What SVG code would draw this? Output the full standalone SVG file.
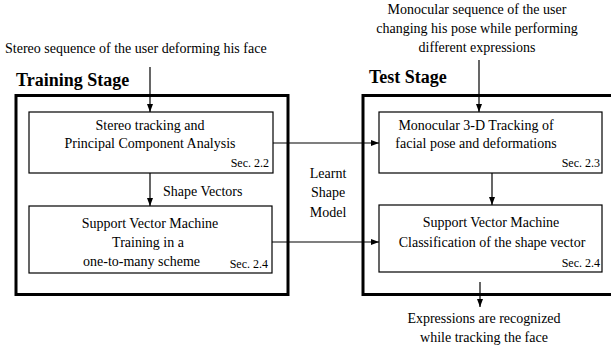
<svg xmlns="http://www.w3.org/2000/svg" width="611" height="349" viewBox="0 0 611 349">
<defs>
<marker id="ah" markerWidth="8" markerHeight="6" refX="8" refY="3" orient="auto" markerUnits="userSpaceOnUse">
<path d="M0,0 L8,3 L0,6 z" fill="#000"/>
</marker>
</defs>
<style>
.outer{fill:none;stroke:#000;stroke-width:3}
.box{fill:#fff;stroke:#000;stroke-width:1.2}
.c{stroke:#000;stroke-width:1.2;fill:none;marker-end:url(#ah)}
</style>
<rect width="611" height="349" fill="#fff"/>
<g id="training-stage">
<rect class="outer" x="16" y="95.5" width="272" height="199"/>
<text x="16" y="86" font-family="Liberation Serif" font-size="18" font-weight="bold">Training Stage</text>
</g>
<g id="test-stage">
<rect class="outer" x="363" y="95.5" width="260" height="199"/>
<text x="369" y="83" font-family="Liberation Serif" font-size="18" font-weight="bold">Test Stage</text>
</g>
<g id="connectors">
<line class="c" x1="150" y1="67" x2="150" y2="112"/>
<line class="c" x1="150" y1="173" x2="150" y2="206"/>
<line class="c" x1="273" y1="143" x2="379" y2="143"/>
<line class="c" x1="272" y1="242" x2="379" y2="242"/>
<line class="c" x1="479" y1="60" x2="479" y2="112"/>
<line class="c" x1="492" y1="173" x2="492" y2="205"/>
<line class="c" x1="480" y1="282" x2="480" y2="307"/>
</g>
<g id="input-stereo">
<text x="5" y="53" font-family="Liberation Serif" font-size="14">Stereo sequence of the user deforming his face</text>
</g>
<g id="input-mono">
<text x="477" y="14" font-family="Liberation Serif" font-size="14" text-anchor="middle">Monocular sequence of the user</text>
<text x="477" y="33" font-family="Liberation Serif" font-size="14" text-anchor="middle">changing his pose while performing</text>
<text x="477" y="52" font-family="Liberation Serif" font-size="14" text-anchor="middle">different expressions</text>
</g>
<g id="stereo-pca">
<rect class="box" x="29" y="112" width="244" height="61"/>
<text x="150" y="130" font-family="Liberation Serif" font-size="14" text-anchor="middle">Stereo tracking and</text>
<text x="150" y="148" font-family="Liberation Serif" font-size="14" text-anchor="middle">Principal Component Analysis</text>
<text x="269" y="167" font-family="Liberation Serif" font-size="12" text-anchor="end">Sec. 2.2</text>
</g>
<g id="shape-vectors-label">
<text x="163" y="196" font-family="Liberation Serif" font-size="14">Shape Vectors</text>
</g>
<g id="svm-training">
<rect class="box" x="29" y="206" width="243" height="67"/>
<text x="150" y="228" font-family="Liberation Serif" font-size="14" text-anchor="middle">Support Vector Machine</text>
<text x="148" y="247" font-family="Liberation Serif" font-size="14" text-anchor="middle">Training in a</text>
<text x="83" y="266" font-family="Liberation Serif" font-size="14">one-to-many scheme</text>
<text x="268" y="268" font-family="Liberation Serif" font-size="12" text-anchor="end">Sec. 2.4</text>
</g>
<g id="learnt-model-label">
<text x="328" y="178" font-family="Liberation Serif" font-size="14" text-anchor="middle">Learnt</text>
<text x="328" y="197" font-family="Liberation Serif" font-size="14" text-anchor="middle">Shape</text>
<text x="328" y="217" font-family="Liberation Serif" font-size="14" text-anchor="middle">Model</text>
</g>
<g id="mono-tracking">
<rect class="box" x="379" y="112" width="223" height="61"/>
<text x="476" y="130" font-family="Liberation Serif" font-size="14" text-anchor="middle">Monocular 3-D Tracking of</text>
<text x="476" y="148" font-family="Liberation Serif" font-size="14" text-anchor="middle">facial pose and deformations</text>
<text x="600" y="167" font-family="Liberation Serif" font-size="12" text-anchor="end">Sec. 2.3</text>
</g>
<g id="svm-classification">
<rect class="box" x="379" y="205" width="223" height="67"/>
<text x="491" y="227" font-family="Liberation Serif" font-size="14" text-anchor="middle">Support Vector Machine</text>
<text x="492" y="247" font-family="Liberation Serif" font-size="14" text-anchor="middle">Classification of the shape vector</text>
<text x="600" y="267" font-family="Liberation Serif" font-size="12" text-anchor="end">Sec. 2.4</text>
</g>
<g id="output">
<text x="484" y="323" font-family="Liberation Serif" font-size="14" text-anchor="middle">Expressions are recognized</text>
<text x="484" y="342" font-family="Liberation Serif" font-size="14" text-anchor="middle">while tracking the face</text>
</g>
</svg>
